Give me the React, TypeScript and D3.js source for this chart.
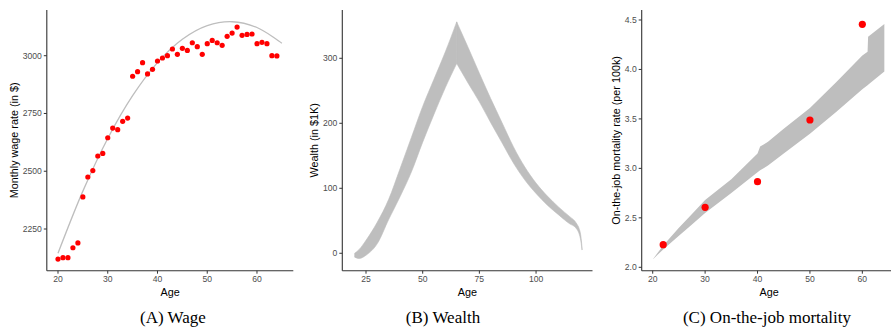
import React from "react";
import * as d3 from "d3";

// ---------- Panel A: wage ----------
const wageAges = [20,21,22,23,24,25,26,27,28,29,30,31,32,33,34,35,36,37,38,39,40,41,42,43,44,45,46,47,48,49,50,51,52,53,54,55,56,57,58,59,60,61,62,63,64];
const wageValues = [2120,2126,2126,2169,2190,2389,2475,2503,2566,2577,2645,2687,2680,2716,2730,2911,2931,2970,2921,2941,2977,2990,3000,3029,3006,3032,3023,3056,3039,3006,3052,3066,3056,3045,3084,3098,3124,3088,3092,3094,3052,3058,3052,3000,2999];
const wageFitAges = [20,25,30,35,40,45,50,55,60,65];
const wageFitValues = [2145,2414,2642,2827,2970,3071,3130,3147,3122,3054];
const wageTicksX = [20,30,40,50,60];
const wageTicksY = [2250,2500,2750,3000];

// ---------- Panel B: wealth band ----------
const wealthAges = [20,22,25,30,35,40,45,50,55,60,65,70,75,80,85,90,95,100,105,110,115,117,118,119,119.7,120.1,120.3];
const wealthUpper = [0,6,20,48,83,130,178,226,268,310,356,317,277,238,201,164,133,108,88,71,56,50,45,38,28,16,8];
const wealthLower = [-6,-8,-3,15,52,87,125,171,214,255,292,262,233,201,170,139,113,92,74,59,45,41,37,30,20,10,5];
const wealthPeakAge = 65;
const wealthTicksX = [25,50,75,100];
const wealthTicksY = [0,100,200,300];

// ---------- Panel C: mortality ----------
const mortBandAges = [20,22,25,27,30,35,40,40.5,42,45,50,55,60,61,61.1,64.2];
const mortUpper = [2.08,2.22,2.40,2.51,2.68,2.89,3.15,3.22,3.27,3.40,3.61,3.87,4.14,4.18,4.33,4.46];
const mortLower = [2.08,2.18,2.32,2.41,2.55,2.75,2.96,2.98,3.03,3.15,3.35,3.57,3.80,3.84,3.845,3.98];
const mortPointAges = [22,30,40,50,60];
const mortPointValues = [2.229,2.606,2.866,3.489,4.456];
const mortTicksX = [20,30,40,50,60];
const mortTicksY = [2.0,2.5,3.0,3.5,4.0,4.5];

const captions = ["(A) Wage", "(B) Wealth", "(C) On-the-job mortality"];

const TOP = 10;
const BOTTOM = 270.7;
const SANS = "Liberation Sans, Arial, sans-serif";
const AXIS_COLOR = "#333333";
const TICK_TEXT = "#4d4d4d";
const GREY = "#bebebe";

type Lin = d3.ScaleLinear<number, number>;

function Axes({ x, y, xt, yt, fmt, title, titleX }: { x: Lin; y: Lin; xt: number[]; yt: number[]; fmt: (v: number) => string; title: string; titleX: number }) {
  const [x0, x1] = x.range();
  const midY = (TOP + BOTTOM) / 2;
  return (
    <g>
      <line x1={x0} x2={x0} y1={TOP} y2={BOTTOM} stroke={AXIS_COLOR} strokeWidth={1.1} />
      <line x1={x0} x2={x1} y1={BOTTOM} y2={BOTTOM} stroke={AXIS_COLOR} strokeWidth={1.1} />
      {yt.map((t) => (
        <g key={"y" + t}>
          <line x1={x0 - 3} x2={x0} y1={y(t)} y2={y(t)} stroke={AXIS_COLOR} strokeWidth={1} />
          <text x={x0 - 5} y={y(t)} dy="0.35em" textAnchor="end" fontSize={8.6} fill={TICK_TEXT} fontFamily={SANS}>{fmt(t)}</text>
        </g>
      ))}
      {xt.map((t) => (
        <g key={"x" + t}>
          <line x1={x(t)} x2={x(t)} y1={BOTTOM} y2={BOTTOM + 3} stroke={AXIS_COLOR} strokeWidth={1} />
          <text x={x(t)} y={BOTTOM + 11} textAnchor="middle" fontSize={8.6} fill={TICK_TEXT} fontFamily={SANS}>{t}</text>
        </g>
      ))}
      <text x={(x0 + x1) / 2} y={295.5} textAnchor="middle" fontSize={10.8} fill="#000" fontFamily={SANS}>Age</text>
      <text transform={`translate(${titleX},${midY}) rotate(-90)`} textAnchor="middle" dy="0.35em" fontSize={10.8} fill="#000" fontFamily={SANS}>{title}</text>
    </g>
  );
}

export default function App() {
  // Panel A
  const xA = d3.scaleLinear().domain([17.75, 67.3]).range([46.8, 293.3]);
  const yA = d3.scaleLinear().domain([2069.6, 3197.8]).range([BOTTOM, TOP]);
  const fitLine = d3.line<number>().x((_, i) => xA(wageFitAges[i])).y((d) => yA(d)).curve(d3.curveCatmullRom)(wageFitValues) || "";

  // Panel B: two smooth pieces joined at the sharp peak
  const xB = d3.scaleLinear().domain([14.54, 124.9]).range([342.3, 592.5]);
  const yB = d3.scaleLinear().domain([-26.8, 374.3]).range([BOTTOM, TOP]);
  const idx = wealthAges.map((_, i) => i);
  const peakIdx = wealthAges.indexOf(wealthPeakAge);
  const wealthAreaGen = d3.area<number>()
    .x((i) => xB(wealthAges[i]))
    .y0((i) => yB(wealthLower[i]))
    .y1((i) => yB(wealthUpper[i]))
    .curve(d3.curveMonotoneX);
  const wealthRise = wealthAreaGen(idx.filter((i) => i <= peakIdx)) || "";
  const wealthFall = wealthAreaGen(idx.filter((i) => i >= peakIdx)) || "";

  // Panel C
  const xC = d3.scaleLinear().domain([17.9, 66.5]).range([641.7, 896.4]);
  const yC = d3.scaleLinear().domain([1.9656, 4.601]).range([BOTTOM, TOP]);
  const mortArea = d3.area<number>().x((d) => xC(d)).y0((_, i) => yC(mortLower[i])).y1((_, i) => yC(mortUpper[i]))(mortBandAges) || "";

  const captionX = [173, 443, 767];

  return (
    <svg width={891} height={332} style={{ position: "absolute", left: 0, top: 0, background: "#fff" }}>
      <rect width={891} height={332} fill="#fff" />
      {/* A */}
      <path d={fitLine} fill="none" stroke={GREY} strokeWidth={1.3} />
      {wageAges.map((a, i) => (
        <circle key={"w" + a} cx={xA(a)} cy={yA(wageValues[i])} r={2.6} fill="#ff0000" />
      ))}
      <Axes x={xA} y={yA} xt={wageTicksX} yt={wageTicksY} fmt={(v) => String(v)} title="Monthly wage rate (in $)" titleX={14.7} />

      {/* B */}
      <path d={wealthRise} fill={GREY} stroke={GREY} strokeWidth={0.6} />
      <path d={wealthFall} fill={GREY} stroke={GREY} strokeWidth={0.6} />
      <Axes x={xB} y={yB} xt={wealthTicksX} yt={wealthTicksY} fmt={(v) => String(v)} title="Wealth (in $1K)" titleX={314} />

      {/* C */}
      <path d={mortArea} fill={GREY} stroke="none" />
      {mortPointAges.map((a, i) => (
        <circle key={"m" + a} cx={xC(a)} cy={yC(mortPointValues[i])} r={3.6} fill="#ff0000" />
      ))}
      <Axes x={xC} y={yC} xt={mortTicksX} yt={mortTicksY} fmt={(v) => v.toFixed(1)} title="On-the-job mortality rate (per 100k)" titleX={616} />

      {captions.map((c, i) => (
        <text key={c} x={captionX[i]} y={323} textAnchor="middle" fontSize={17} fontFamily="Liberation Serif, 'DejaVu Serif', serif" fill="#000">{c}</text>
      ))}
    </svg>
  );
}
